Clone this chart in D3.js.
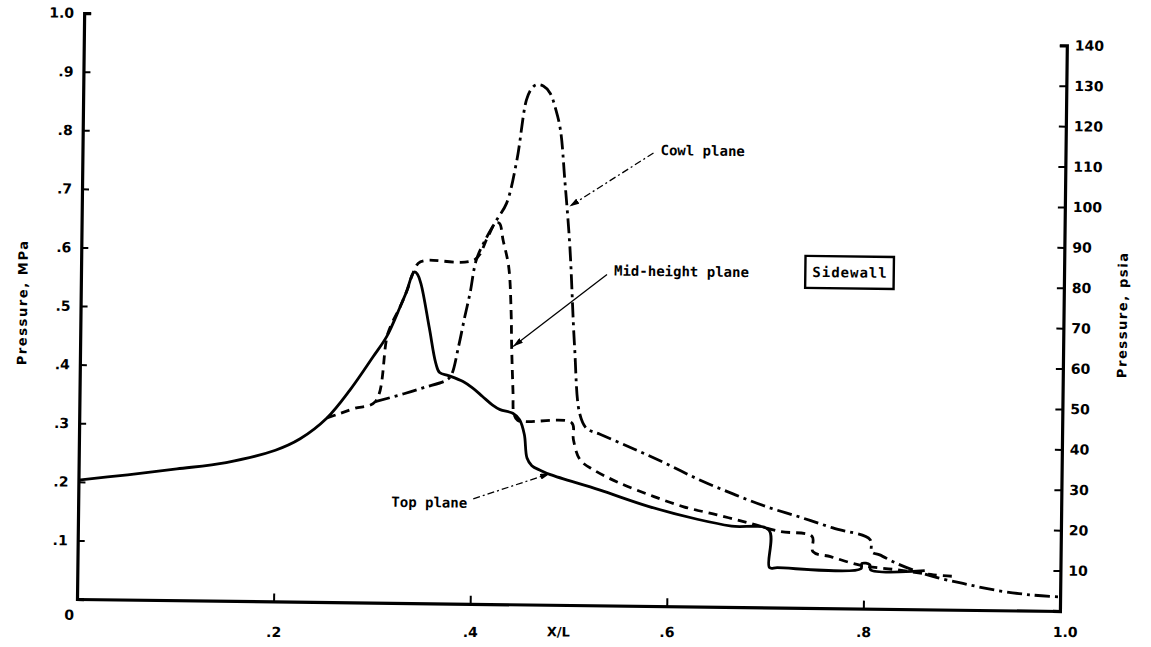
<!DOCTYPE html>
<html>
<head>
<meta charset="utf-8">
<script src="https://cdn.jsdelivr.net/npm/d3@7"></script>
<style>
  html, body { margin: 0; padding: 0; background: #fff; }
  svg { display: block; }
  .tick text { font-family: "DejaVu Sans", sans-serif; font-weight: bold; font-size: 14px; fill: #000; }
  .lbl { font-family: "DejaVu Sans Mono", monospace; font-weight: bold; font-size: 14px; fill: #000; }
  .title { font-family: "DejaVu Sans", sans-serif; font-weight: bold; font-size: 13px; fill: #000; letter-spacing: 1.6px; }
</style>
</head>
<body>
<svg id="chart" width="1151" height="647"></svg>
<script>
// Sidewall pressure distributions along the inlet, X/L vs pressure (MPa)

// Top plane (solid)
const topX = [0, 0.05, 0.10, 0.15, 0.20, 0.225, 0.252, 0.275, 0.298, 0.312, 0.325, 0.332, 0.336, 0.339,
  0.342, 0.346, 0.355, 0.362, 0.366, 0.375, 0.39, 0.40, 0.41, 0.42, 0.428, 0.441, 0.448, 0.453, 0.456,
  0.461, 0.47, 0.48, 0.53, 0.58, 0.63, 0.665, 0.703, 0.704, 0.712, 0.797, 0.798, 0.806, 0.807, 0.862];
const topP = [0.203, 0.213, 0.224, 0.236, 0.258, 0.278, 0.314, 0.362, 0.419, 0.455, 0.505, 0.534, 0.556, 0.565,
  0.562, 0.545, 0.47, 0.41, 0.394, 0.389, 0.379, 0.368, 0.354, 0.340, 0.332, 0.326, 0.315, 0.29, 0.250,
  0.237, 0.229, 0.222, 0.197, 0.170, 0.149, 0.138, 0.132, 0.068, 0.068, 0.068, 0.077, 0.075, 0.066, 0.066];

// Mid-height plane (dashed)
const midX = [0.252, 0.265, 0.28, 0.301, 0.313, 0.325, 0.332, 0.337, 0.343, 0.35, 0.40, 0.413, 0.421, 0.425,
  0.429, 0.435, 0.438, 0.439, 0.441, 0.442, 0.446, 0.455, 0.501, 0.503, 0.510, 0.524, 0.548, 0.582, 0.616,
  0.650, 0.684, 0.714, 0.747, 0.748, 0.766, 0.796, 0.833, 0.871, 0.890];
const midP = [0.314, 0.322, 0.331, 0.343, 0.46, 0.505, 0.534, 0.56, 0.580, 0.585, 0.587, 0.625, 0.650, 0.650,
  0.621, 0.576, 0.50, 0.440, 0.36, 0.326, 0.314, 0.312, 0.311, 0.282, 0.248, 0.231, 0.211, 0.189, 0.170,
  0.157, 0.143, 0.130, 0.122, 0.096, 0.088, 0.074, 0.067, 0.059, 0.057];

// Cowl plane (dash-dot)
const cowlX = [0.301, 0.33, 0.35, 0.373, 0.378, 0.385, 0.391, 0.396, 0.402, 0.412, 0.422, 0.432, 0.442, 0.451,
  0.456, 0.461, 0.468, 0.475, 0.481, 0.486, 0.491, 0.497, 0.503, 0.509, 0.516, 0.530, 0.564, 0.598, 0.632,
  0.666, 0.70, 0.734, 0.768, 0.806, 0.808, 0.816, 0.833, 0.850, 0.871, 0.901, 0.935, 0.969, 1.0];
const cowlP = [0.343, 0.357, 0.368, 0.381, 0.39, 0.439, 0.49, 0.530, 0.587, 0.625, 0.655, 0.684, 0.758, 0.861,
  0.880, 0.887, 0.885, 0.873, 0.845, 0.810, 0.725, 0.611, 0.441, 0.327, 0.302, 0.292, 0.268, 0.243, 0.216,
  0.193, 0.172, 0.155, 0.137, 0.118, 0.097, 0.092, 0.078, 0.067, 0.056, 0.045, 0.034, 0.027, 0.024];

// Axis ticks and labels
const mpaTicks = [0.1, 0.2, 0.3, 0.4, 0.5, 0.6, 0.7, 0.8, 0.9, 1.0];
const mpaTickLabels = [".1", ".2", ".3", ".4", ".5", ".6", ".7", ".8", ".9", "1.0"];
const xTicks = [0, 0.2, 0.4, 0.6, 0.8, 1.0];
const xTickLabels = ["0", ".2", ".4", ".6", ".8", "1.0"];
const psiTicks = [10, 20, 30, 40, 50, 60, 70, 80, 90, 100, 110, 120, 130, 140];
const PSI_PER_MPA = 145.038;

const W = 983, H = 586;            // plot frame: X/L 0..1, 0..1 MPa
const TILT = 0.7;                  // the sheet sits slightly skewed
const tanT = Math.tan(TILT * Math.PI / 180);
const svg = d3.select("#chart");
const g = svg.append("g").attr("transform", `translate(77,599) rotate(${TILT})`);

const x = d3.scaleLinear().domain([0, 1]).range([0, W]);
const y = d3.scaleLinear().domain([0, 1]).range([0, -H]);
const yPsi = d3.scaleLinear().domain([0, 140]).range([0, -H * 140 / PSI_PER_MPA]);

// Axes
const axL = d3.axisLeft(y).tickValues(mpaTicks).tickFormat((d, i) => mpaTickLabels[i])
  .tickSize(-7).tickSizeOuter(-7).tickPadding(10);
const gl = g.append("g").call(axL);

const axB = d3.axisBottom(x).tickValues(xTicks).tickFormat((d, i) => xTickLabels[i])
  .tickSize(-8).tickSizeOuter(0);
const gb = g.append("g").call(axB);
gb.selectAll(".tick text")
  .attr("dy", null).attr("dominant-baseline", "central")
  .attr("dx", d => d === 0 ? -8 : (d === 1 ? 5 : 0))
  .attr("y", d => d === 0 ? 16 : 33 - x(d) * tanT);

const axR = d3.axisRight(yPsi).tickValues(psiTicks).tickSize(-7).tickSizeOuter(-7).tickPadding(8);
const gr = g.append("g").attr("transform", `translate(${W},0)`).call(axR);

[gl, gb, gr].forEach(a => {
  a.select(".domain").attr("stroke", "#000").attr("stroke-width", 3.2).attr("fill", "none");
  a.selectAll(".tick line").attr("stroke", "#000").attr("stroke-width", 2);
  a.attr("font-size", null).attr("font-family", null);
});

// X/L caption between tick labels
g.append("text").attr("x", x(0.49)).attr("y", 33 - x(0.49) * tanT)
  .attr("text-anchor", "middle").attr("dominant-baseline", "central")
  .style("font-family", "DejaVu Sans, sans-serif").style("font-weight", "bold")
  .style("font-size", "13px").text("X/L");

// Axis titles
g.append("text").attr("class", "title")
  .attr("transform", `translate(-58,${-296}) rotate(-90)`)
  .attr("text-anchor", "middle").attr("dominant-baseline", "central").text("Pressure, MPa");
g.append("text").attr("class", "title")
  .attr("transform", `translate(${W + 59},${-297}) rotate(-90)`)
  .attr("text-anchor", "middle").attr("dominant-baseline", "central").text("Pressure, psia");

// Curves
const line = d3.line().x(d => x(d[0])).y(d => y(d[1])).curve(d3.curveCatmullRom.alpha(0.5));
const series = [
  { xs: cowlX, ps: cowlP, dash: "15,5,3,5" },
  { xs: midX, ps: midP, dash: "9,6" },
  { xs: topX, ps: topP, dash: null }
];
series.forEach(s => {
  g.append("path").datum(d3.zip(s.xs, s.ps)).attr("d", line)
    .attr("fill", "none").attr("stroke", "#000").attr("stroke-width", 2.8)
    .attr("stroke-linejoin", "round")
    .attr("stroke-dasharray", s.dash);
});

// Arrowhead for leaders
svg.append("defs").append("marker").attr("id", "arr")
  .attr("viewBox", "0 0 10 6").attr("refX", 10).attr("refY", 3)
  .attr("markerWidth", 10).attr("markerHeight", 6).attr("markerUnits", "userSpaceOnUse")
  .attr("orient", "auto")
  .append("path").attr("d", "M0,0L10,3L0,6Z").attr("fill", "#000");

// Leaders and labels
const notes = [
  { text: "Cowl plane", tip: [0.4960, 0.68], from: [571, -453], at: [578, -456], anchor: "start", dash: "7,3,2,3" },
  { text: "Mid-height plane", tip: [0.4405, 0.44], from: [526, -331], at: [533, -335], anchor: "start", dash: null },
  { text: "Top plane", tip: [0.4797, 0.224], from: [395, -105], at: [389, -101], anchor: "end", dash: "7,3,2,3" }
];
notes.forEach(n => {
  g.append("line").attr("x1", n.from[0]).attr("y1", n.from[1])
    .attr("x2", x(n.tip[0])).attr("y2", y(n.tip[1]))
    .attr("stroke", "#000").attr("stroke-width", 1.3)
    .attr("stroke-dasharray", n.dash).attr("marker-end", "url(#arr)");
  g.append("text").attr("class", "lbl").attr("x", n.at[0]).attr("y", n.at[1])
    .attr("text-anchor", n.anchor).attr("dominant-baseline", "central").text(n.text);
});

// Sidewall tag
const tag = g.append("g").attr("transform", "translate(769,-336)");
const tt = tag.append("text").attr("class", "lbl").attr("text-anchor", "middle")
  .attr("dominant-baseline", "central").style("letter-spacing", "1px").text("Sidewall");
const bb = tt.node().getBBox();
tag.insert("rect", "text").attr("x", bb.x - 7).attr("y", -16).attr("width", bb.width + 13).attr("height", 32)
  .attr("fill", "none").attr("stroke", "#000").attr("stroke-width", 2.4);
</script>
</body>
</html>
